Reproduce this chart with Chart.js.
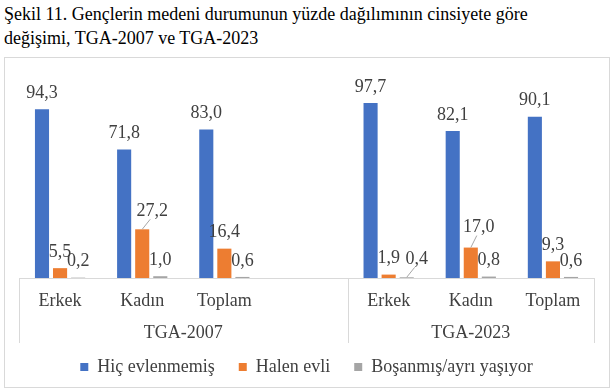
<!DOCTYPE html>
<html>
<head>
<meta charset="utf-8">
<script src="https://cdn.jsdelivr.net/npm/chart.js@4/dist/chart.umd.min.js"></script>
<style>
  body { margin: 0; background: #fff; width: 615px; height: 392px; position: relative; overflow: hidden; }
  #title { position: absolute; left: 4px; top: 2px; font-family: "Liberation Serif", "Times New Roman", serif; font-size: 18px; line-height: 24px; color: #000; }
  #box { position: absolute; left: 4px; top: 57px; width: 606px; height: 331px; border: 1px solid #d9d9d9; box-sizing: border-box; }
</style>
</head>
<body>
<div id="title">Şekil 11. Gençlerin medeni durumunun yüzde dağılımının cinsiyete göre<br>değişimi, TGA-2007 ve TGA-2023</div>
<div id="box"><canvas id="chart" width="604" height="329"></canvas></div>
<script>
// kategoriler (4. slot boş: iki grup arasındaki boşluk)
const categories = ['Erkek', 'Kadın', 'Toplam', '', 'Erkek', 'Kadın', 'Toplam'];
const groups = [
  { label: 'TGA-2007', from: 0, to: 3 },
  { label: 'TGA-2023', from: 4, to: 6 }
];
const seriesNames = ['Hiç evlenmemiş', 'Halen evli', 'Boşanmış/ayrı yaşıyor'];
const hicEvlenmemis = [94.3, 71.8, 83.0, null, 97.7, 82.1, 90.1];
const halenEvli = [5.5, 27.2, 16.4, null, 1.9, 17.0, 9.3];
const bosanmis = [0.2, 1.0, 0.6, null, 0.4, 0.8, 0.6];
const colors = ['#4472C4', '#ED7D31', '#A5A5A5'];

const serif = '"Liberation Serif", "Times New Roman", serif';
const textColor = '#404040';
const lineColor = '#d9d9d9';

// etiketi kayan çubuklar (leader line ile)
const labelNudge = { '1-1': [10, -2], '2-4': [10, -2], '1-5': [8, -4] };

const dataLabels = {
  id: 'dataLabels',
  afterDatasetsDraw(chart) {
    const ctx = chart.ctx;
    ctx.save();
    ctx.font = '18px ' + serif;
    ctx.fillStyle = textColor;
    ctx.textAlign = 'center';
    ctx.textBaseline = 'middle';
    chart.data.datasets.forEach((ds, di) => {
      chart.getDatasetMeta(di).data.forEach((bar, i) => {
        const v = ds.data[i];
        if (v == null) return;
        const n = labelNudge[di + '-' + i] || [0, 0];
        const x = bar.x + n[0];
        const y = bar.y - 16 + n[1];
        if (n[0] !== 0) {
          ctx.strokeStyle = '#a6a6a6';
          ctx.lineWidth = 1;
          ctx.beginPath();
          ctx.moveTo(bar.x, bar.y);
          ctx.lineTo(x - 2, y + 8);
          ctx.stroke();
        }
        ctx.fillText(v.toFixed(1).replace('.', ','), x, y);
      });
    });
    ctx.restore();
  }
};

const groupAxis = {
  id: 'groupAxis',
  afterDraw(chart) {
    const ctx = chart.ctx;
    const x = chart.scales.x;
    const half = (x.getPixelForValue(1) - x.getPixelForValue(0)) / 2;
    const top = x.top;
    const bottom = top + 65;
    ctx.save();
    ctx.strokeStyle = lineColor;
    ctx.lineWidth = 1;
    ctx.font = '18px ' + serif;
    ctx.fillStyle = textColor;
    ctx.textAlign = 'center';
    ctx.textBaseline = 'middle';
    groups.forEach((g, k) => {
      const l = x.getPixelForValue(g.from) - half;
      const r = x.getPixelForValue(g.to) + half;
      ctx.beginPath();
      ctx.moveTo(Math.round(l) + 0.5, top);
      ctx.lineTo(Math.round(l) + 0.5, bottom);
      if (k === groups.length - 1) {
        ctx.moveTo(Math.round(r) + 0.5, top);
        ctx.lineTo(Math.round(r) + 0.5, bottom);
      }
      ctx.stroke();
      ctx.fillText(g.label, (l + r) / 2, top + 55);
    });
    ctx.restore();
  }
};

function drawChart() {
  new Chart(document.getElementById('chart'), {
    type: 'bar',
    data: {
      labels: categories,
      datasets: [
        { label: seriesNames[0], data: hicEvlenmemis, backgroundColor: colors[0] },
        { label: seriesNames[1], data: halenEvli, backgroundColor: colors[1] },
        { label: seriesNames[2], data: bosanmis, backgroundColor: colors[2] }
      ]
    },
    options: {
      responsive: false,
      animation: false,
      categoryPercentage: 0.66,
      barPercentage: 0.78,
      layout: { padding: { left: 14, right: 15, top: 41, bottom: 1 } },
      plugins: {
        tooltip: { enabled: false },
        legend: {
          position: 'bottom',
          labels: {
            font: { family: serif, size: 18 },
            color: textColor,
            boxWidth: 8,
            boxHeight: 8,
            padding: 24
          }
        }
      },
      scales: {
        x: {
          grid: { display: false, drawTicks: false },
          border: { display: true, color: lineColor },
          ticks: { font: { family: serif, size: 18 }, color: textColor, padding: 12, maxRotation: 0, autoSkip: false },
          afterFit: s => { s.height = 56; }
        },
        y: {
          display: false,
          min: 0,
          max: 100
        }
      }
    },
    plugins: [dataLabels, groupAxis]
  });
}

document.fonts.load('18px "Liberation Serif"').then(drawChart, drawChart);
</script>
</body>
</html>
